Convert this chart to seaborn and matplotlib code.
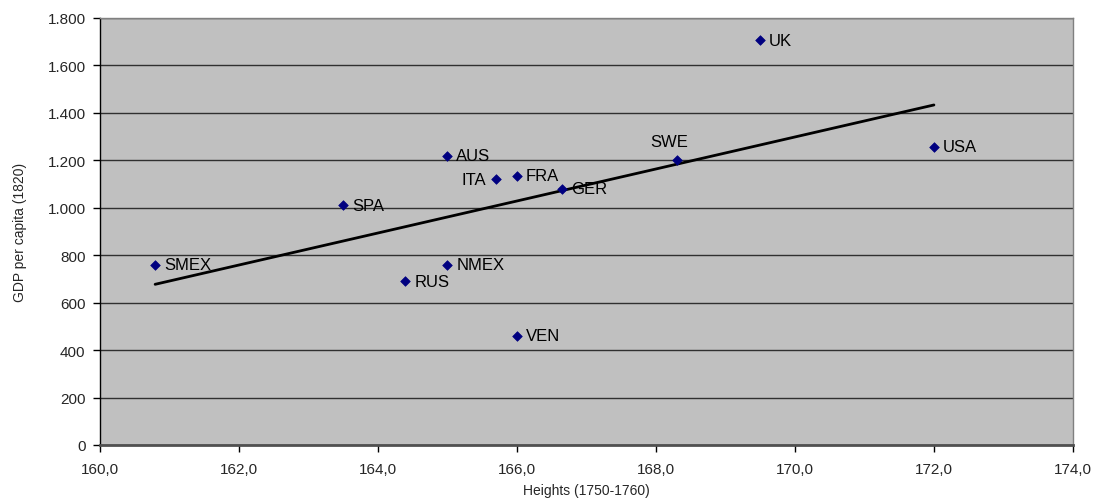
import matplotlib
matplotlib.use("Agg")
import matplotlib.pyplot as plt
import matplotlib.ticker as mticker
import seaborn as sns
import pandas as pd

countries = ["SMEX", "SPA", "AUS", "ITA", "FRA", "GER", "NMEX", "RUS", "VEN", "SWE", "UK", "USA"]
heights = [160.8, 163.5, 165.0, 165.7, 166.0, 166.65, 165.0, 164.4, 166.0, 168.3, 169.5, 172.0]
gdp = [760, 1010, 1220, 1120, 1135, 1080, 760, 690, 460, 1200, 1706, 1257]

df = pd.DataFrame({"country": countries, "height": heights, "gdp": gdp})

sns.set_style("white")
plt.rcParams["font.family"] = ["Liberation Sans", "DejaVu Sans"]

fig = plt.figure(figsize=(10.98, 5.02), dpi=100)
ax = fig.add_axes([99.5 / 1098, 1 - 446 / 502, (1073 - 99.5) / 1098, (446 - 19) / 502])
ax.set_facecolor("#C0C0C0")

ax.set_xlim(160, 174)
ax.set_ylim(0, 1800)
ax.set_xticks(range(160, 175, 2))
ax.set_yticks(range(0, 1801, 200))
ax.grid(axis="y", color="#303030", linewidth=1.0)
ax.set_axisbelow(True)

sns.regplot(data=df, x="height", y="gdp", ax=ax, ci=None, truncate=True,
            scatter=False, line_kws={"color": "black", "linewidth": 2})
sns.scatterplot(data=df, x="height", y="gdp", ax=ax, marker="D", s=24,
                color="#000080", edgecolor="#000080", linewidth=0.5, zorder=5)

for c, xv, yv in zip(countries, heights, gdp):
    if c == "ITA":
        ax.annotate(c, (xv, yv), xytext=(-7, 0), textcoords="offset points",
                    ha="right", va="center", fontsize=12, color="black")
    elif c == "SWE":
        ax.annotate(c, (xv, yv), xytext=(-5, 8), textcoords="offset points",
                    ha="center", va="bottom", fontsize=12, color="black")
    else:
        ax.annotate(c, (xv, yv), xytext=(6.5, 0), textcoords="offset points",
                    ha="left", va="center", fontsize=12, color="black")

ax.xaxis.set_major_formatter(mticker.FuncFormatter(lambda v, p: f"{v:.1f}".replace(".", ",")))
ax.yaxis.set_major_formatter(mticker.FuncFormatter(lambda v, p: f"{int(v):,}".replace(",", ".")))

ax.tick_params(axis="both", direction="out", length=5, width=1, color="black",
               labelsize=11, bottom=True, left=True)
ax.tick_params(axis="x", pad=7)
ax.tick_params(axis="y", pad=5)

for s in ["top", "right"]:
    ax.spines[s].set_color("#808080")
    ax.spines[s].set_linewidth(1)
ax.spines["left"].set_color("black")
ax.spines["left"].set_linewidth(1)
ax.spines["bottom"].set_color("#505050")
ax.spines["bottom"].set_linewidth(2)

ax.set_xlabel("Heights (1750-1760)", fontsize=10, labelpad=5)
ax.set_ylabel("GDP per capita (1820)", fontsize=10, labelpad=15)

fig.savefig("out.png", dpi=100)
